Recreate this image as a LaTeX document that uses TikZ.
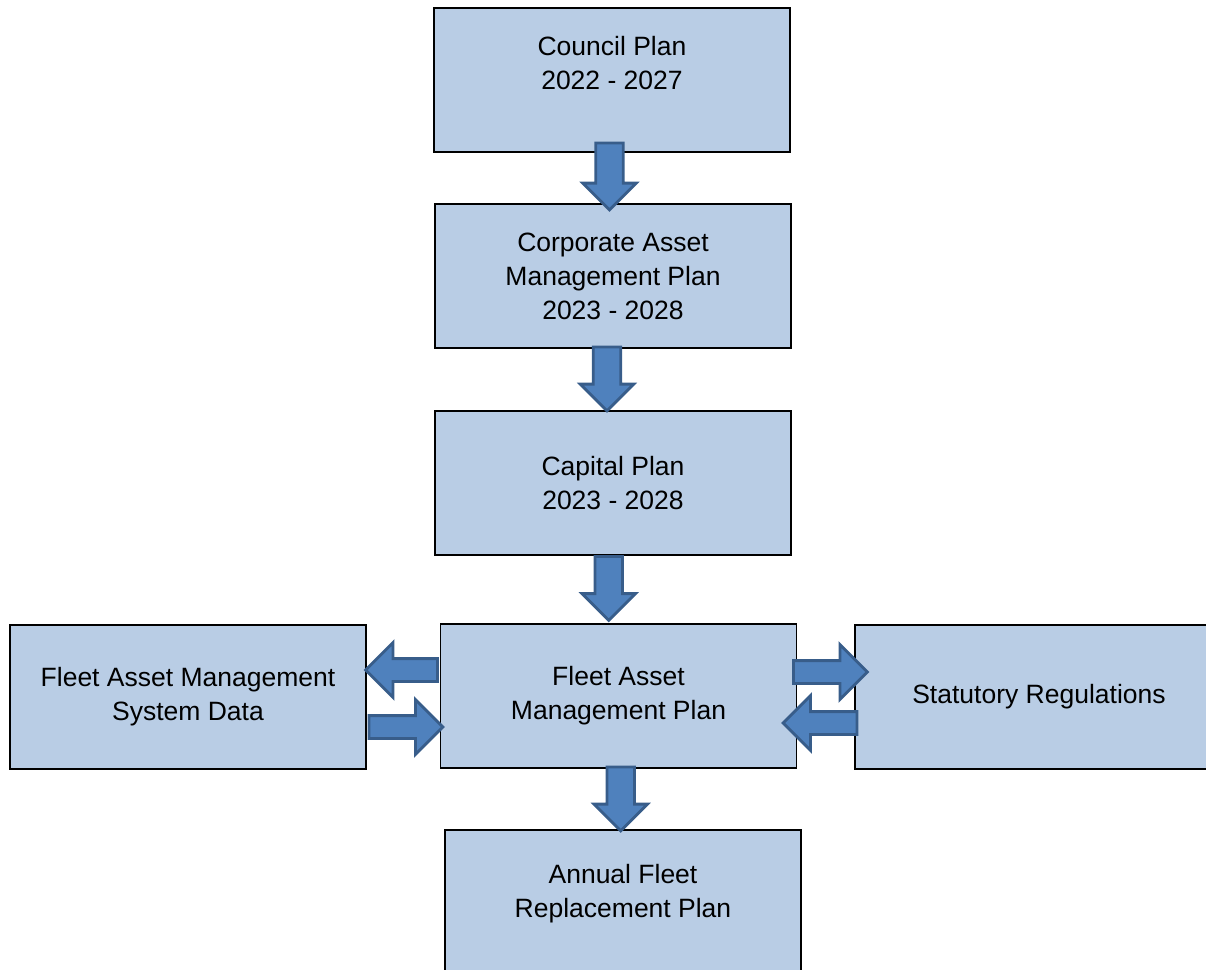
\documentclass[tikz,border=0pt]{standalone}
\usepackage{fontspec}
\setmainfont{Liberation Sans}
\usetikzlibrary{shapes.arrows, calc}
\definecolor{boxfill}{HTML}{B9CDE5}
\definecolor{arrowfill}{HTML}{4F81BD}
\definecolor{arrowline}{HTML}{385D8A}

\begin{document}
\begin{tikzpicture}[x=0.5pt, y=-0.5pt, font=\fontsize{13.25}{17}\selectfont,
	planbox/.style={draw=black, line width=0.75pt, fill=boxfill, minimum width=178pt, minimum height=72pt, align=center, inner sep=0pt},
	blockarrow/.style={single arrow, draw=arrowline, line width=1.4pt, fill=arrowfill, single arrow head indent=0pt, inner xsep=0pt},
	downarrow/.style={blockarrow, inner ysep=6.2pt, single arrow head extend=6.5pt, minimum height=32pt, rotate=-90},
	sidearrow/.style={blockarrow, inner ysep=5pt, single arrow head extend=8pt, minimum height=37pt}]
			\path[use as bounding box, clip] (0,0) rectangle (1206,970);
			
			% Plan boxes
			\node[planbox] (council) at (612,80) {};
			\node[align=center] (counciltext) at ($(council.center)+(0,-16.5)$) {Council Plan\\2022 - 2027};
			\node[planbox] (corporate) at (613,276) {Corporate Asset\\Management Plan\\2023 - 2028};
			\node[planbox] (capital) at (613,483) {Capital Plan\\2023 - 2028};
			\node[planbox] (fleet) at (618.5,696) {Fleet Asset\\Management Plan};
			\node[planbox] (famsdata) at (188,697) {Fleet Asset Management\\System Data};
			\node[planbox, minimum width=184pt] (statutory) at (1039,697) {Statutory Regulations};
			\node[planbox] (annual) at (623,902) {};
			\node[align=center] (annualtext) at ($(annual.center)+(0,-8)$) {Annual Fleet\\Replacement Plan};
			
			% Block arrows down the chain
			\node[downarrow, minimum height=33.5pt] (a1) at ($(council.south)!.5!(corporate.north)+(-3,-8.5)$) {};
			\node[downarrow] (a2) at ($(corporate.south)!.5!(capital.north)+(-6,-7.5)$) {};
			\node[downarrow] (a3) at ($(capital.south)!.5!(fleet.north)+(-7,-8)$) {};
			\node[downarrow] (a4) at ($(fleet.south)!.5!(annual.north)+(0,-7)$) {};
			
			% Block arrows to and from the side boxes
			\node[sidearrow, minimum height=36pt, rotate=180] (fleettodata) at ($(fleet.west)!.5!(famsdata.east)+(4,-26.5)$) {};
			\node[sidearrow] (datatofleet) at ($(fleet.west)!.5!(famsdata.east)+(-3,30.5)$) {};
			\node[sidearrow] (fleettostat) at ($(fleet.east)!.5!(statutory.west)+(-1,-24.5)$) {};
			\node[sidearrow, rotate=180] (stattofleet) at ($(fleet.east)!.5!(statutory.west)+(0,26.5)$) {};
		\end{tikzpicture}
\end{document}
